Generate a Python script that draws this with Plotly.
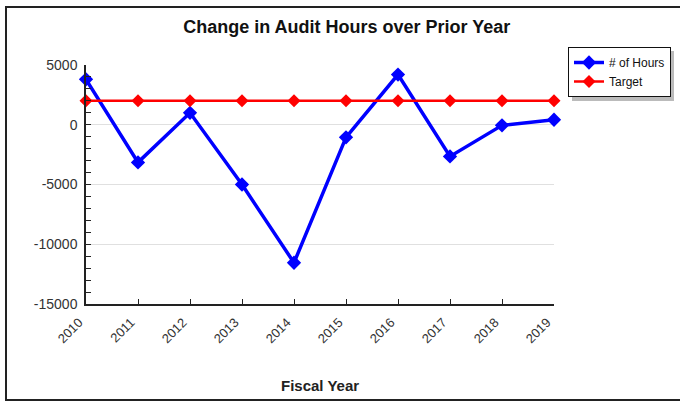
import plotly.graph_objects as go

years = [2010, 2011, 2012, 2013, 2014, 2015, 2016, 2017, 2018, 2019]
hours_change = [3800, -3150, 1000, -5000, -11550, -1050, 4200, -2650, -50, 420]
target = [2000] * len(years)
y_ticks = [5000, 0, -5000, -10000, -15000]
y_tick_text = ["5000", "0", "-5000", "-10000", "-15000"]

W, H = 680, 402
L, R, T, B = 86, 126, 65, 98
pw, ph = W - L - R, H - T - B


def px_x(x):
    return (x - L) / pw


def px_y(y):
    return (H - B - y) / ph


fig = go.Figure()
fig.add_trace(go.Scatter(
    x=years, y=hours_change, name="# of Hours", mode="lines+markers",
    line=dict(color="#0000ff", width=3.5),
    marker=dict(symbol="diamond", size=11, color="#0000ff"),
    cliponaxis=False,
))
fig.add_trace(go.Scatter(
    x=years, y=target, name="Target", mode="lines+markers",
    line=dict(color="#ff0000", width=2.5),
    marker=dict(symbol="diamond", size=10, color="#ff0000"),
    cliponaxis=False,
))

# outer frame and legend shadow
fig.add_shape(type="rect", xref="paper", yref="paper",
              x0=px_x(6), x1=px_x(684), y0=px_y(400), y1=px_y(7),
              line=dict(color="#222", width=2), layer="below")
fig.add_shape(type="rect", xref="paper", yref="paper",
              x0=px_x(572), x1=px_x(674), y0=px_y(101), y1=px_y(51),
              line=dict(width=0), fillcolor="#bbbbbb", layer="above")

fig.add_annotation(text="<b>Fiscal Year</b>", xref="paper", yref="paper",
                   x=0.5, y=px_y(385), showarrow=False,
                   font=dict(size=15, color="#222"), yanchor="middle")

fig.update_layout(
    width=W, height=H,
    margin=dict(l=L, r=R, t=T, b=B, autoexpand=False),
    paper_bgcolor="white", plot_bgcolor="white",
    font=dict(family="Liberation Sans, Arial", color="#333"),
    title=dict(text="<b>Change in Audit Hours over Prior Year</b>",
               x=0.51, xanchor="center", y=1 - 27 / H, yanchor="middle",
               font=dict(size=18, color="#111")),
    legend=dict(x=px_x(568), y=px_y(47), xanchor="left", yanchor="top",
                bgcolor="white", bordercolor="#111", borderwidth=1,
                font=dict(size=12, color="#111"), itemwidth=30,
                tracegroupgap=0),
    showlegend=True,
)
fig.update_xaxes(
    range=[2010, 2019], tickvals=years, tickangle=-45,
    showgrid=False, zeroline=False,
    showline=True, linecolor="#222", linewidth=1.5,
    ticks="inside", ticklen=5, tickcolor="#222",
    tickfont=dict(size=13, color="#333"),
    ticklabelshift=-7, ticklabelstandoff=4,
)
fig.update_yaxes(
    range=[-15000, 5000], tickvals=y_ticks, ticktext=y_tick_text,
    showgrid=True, gridcolor="#e0e0e0", gridwidth=1, zeroline=False,
    showline=True, linecolor="#222", linewidth=1.5,
    ticks="inside", ticklen=5, tickcolor="#222",
    minor=dict(dtick=1000, ticks="inside", ticklen=5, tickcolor="#222",
               showgrid=False),
    tickfont=dict(size=14, color="#333"), ticklabelstandoff=4,
)

fig.write_html("out.html", config={"displayModeBar": False},
               post_script="document.body.style.margin='0';")
